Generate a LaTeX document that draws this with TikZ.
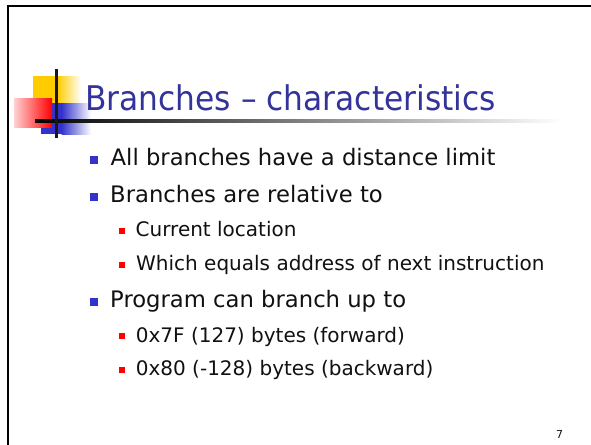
\documentclass[tikz,border=0pt]{standalone}
\usepackage{fontspec}
\setmainfont{DejaVu Sans}
\newfontfamily\titlefont{DejaVu Sans}[FakeStretch=0.92]
\definecolor{titleblue}{RGB}{51,51,153}
\definecolor{bulletblue}{RGB}{51,51,204}
\definecolor{bulletred}{RGB}{255,0,0}
\definecolor{logoyellow}{RGB}{255,204,0}
\definecolor{bodytext}{RGB}{17,17,17}
\tikzset{
  titletext/.style={anchor=base west, inner sep=0pt, text=titleblue,
    font=\titlefont\fontsize{34}{40}\selectfont},
  itemone/.style={anchor=base west, inner sep=0pt, text=bodytext,
    font=\fontsize{22.7}{27}\selectfont},
  itemtwo/.style={anchor=base west, inner sep=0pt, text=bodytext,
    font=\fontsize{20}{24}\selectfont},
  bulletone/.style={fill=bulletblue, draw=none, minimum size=8pt, inner sep=0pt},
  bullettwo/.style={fill=bulletred, draw=none, minimum size=6pt, inner sep=0pt},
  pagenum/.style={anchor=base west, inner sep=0pt, text=bodytext,
    font=\fontsize{11}{13}\selectfont},
}
\begin{document}
\begin{tikzpicture}[x=1pt, y=-1pt]
  \useasboundingbox (0,0) rectangle (591,444);
  \fill[white] (0,0) rectangle (591,444);

  % slide frame: top and left rules
  \draw[line width=2.2pt, line cap=rect] (8,444) -- (8,6) -- (591,6);

  % title logo: three shaded squares crossed by two black rules
  \fill[logoyellow] (33,76) rectangle (58,103);
  \shade[left color=logoyellow, right color=white, draw=none] (57.5,76) rectangle (81,103);
  \fill[bulletblue] (41,103) rectangle (62,134);
  \shade[left color=bulletblue, right color=white, draw=none] (61.5,103) rectangle (91,134);
  \shade[left color=red!18, right color=red, draw=none] (14,98) rectangle (52,127);
  \shade[left color=black, right color=white, draw=none] (35,119.8) rectangle (562,122.4);
  \fill[black!90] (55,69) rectangle (58,138);

  % title
  \node[titletext] (title) at (85,110) {Branches – characteristics};

  % first-level items
  \node[bulletone] (b1) at (94,160) {};
  \node[itemone] (i1) at (110.5,165) {All branches have a distance limit};
  \node[bulletone] (b2) at (94,197) {};
  \node[itemone] (i2) at (110,202) {Branches are relative to};

  % second-level items
  \node[bullettwo] (b21) at (122,231) {};
  \node[itemtwo] (i21) at (135.5,236) {Current location};
  \node[bullettwo] (b22) at (122,265) {};
  \node[itemtwo] (i22) at (136,270) {Which equals address of next instruction};

  \node[bulletone] (b3) at (94,302) {};
  \node[itemone] (i3) at (110,307) {Program can branch up to};
  \node[bullettwo] (b31) at (122,336) {};
  \node[itemtwo] (i31) at (135.7,342) {0x7F (127) bytes (forward)};
  \node[bullettwo] (b32) at (122,369.5) {};
  \node[itemtwo] (i32) at (135.7,375) {0x80 (-128) bytes (backward)};

  % page number
  \node[pagenum] (page) at (556,438) {7};
\end{tikzpicture}
\end{document}
